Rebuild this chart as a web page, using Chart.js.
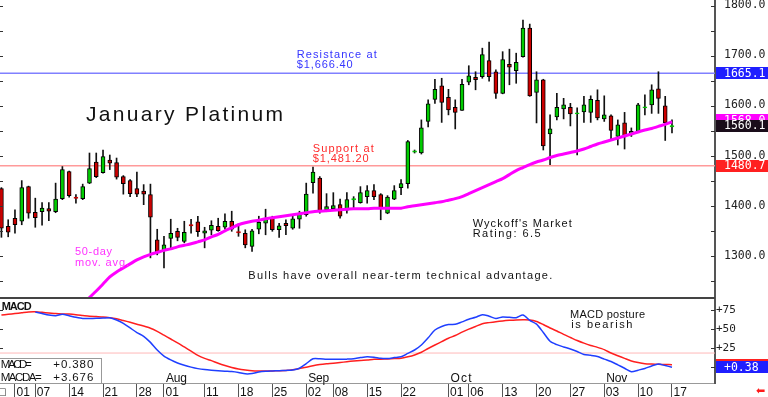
<!DOCTYPE html>
<html>
<head>
<meta charset="utf-8">
<script src="https://cdn.jsdelivr.net/npm/chart.js@4/dist/chart.umd.min.js"></script>
<style>
  html, body { margin: 0; padding: 0; background: #fff; }
  canvas { display: block; }
</style>
</head>
<body>
<canvas id="price" width="768" height="297"></canvas>
<canvas id="macd" width="768" height="100"></canvas>
<script>
// Daily January platinum, Jun 27 .. Nov 17
var OPEN  = [1435,1360,1376,1370,1439,1388,1389,1395,1389,1415,1469,1418,1415,1446,1488,1467,1492,1487,1459,1451,
             1435,1430,1423,1333,1312,1336,1350,1330,1363,1369,1346,1352,1360,1358,1370,1349,1346,1320,1354,1366,
             1378,1353,1366,1356,1374,1383,1447,1456,1393,1395,1403,1392,1413,1407,1419,1431,1423,1386,1414,1437,
             1445,1508,1506,1569,1613,1640,1617,1597,1591,1647,1657,1658,1690,1668,1625,1683,1670,1698,1755,1627,
             1652,1544,1578,1594,1597,1584,1588,1587,1611,1574,1580,1539,1566,1542,1549,1596,1602,1634,1600,1558.5];
var HIGH  = [1437,1373,1393,1451,1440,1416,1407,1407,1446,1479,1470,1423,1444,1506,1506,1512,1502,1496,1461,1453,
             1468,1443,1444,1354,1340,1374,1356,1370,1374,1380,1358,1371,1376,1385,1390,1365,1353,1354,1380,1394,
             1380,1366,1373,1380,1390,1446,1478,1459,1425,1427,1414,1427,1419,1439,1441,1443,1425,1421,1441,1453,
             1531,1512,1572,1612,1653,1655,1633,1612,1653,1680,1668,1715,1727,1672,1708,1713,1705,1771,1763,1668,
             1653,1582,1625,1615,1605,1596,1619,1620,1632,1620,1582,1572,1587,1556,1605,1622,1642,1668,1619,1572];
var LOW   = [1338,1339,1346,1363,1376,1358,1362,1371,1387,1413,1418,1406,1413,1445,1457,1466,1473,1454,1424,1419,
             1419,1403,1297,1303,1277,1317,1331,1327,1346,1340,1317,1343,1350,1354,1350,1340,1317,1310,1345,1343,
             1350,1338,1343,1354,1356,1380,1426,1386,1389,1393,1376,1386,1396,1406,1406,1413,1373,1385,1413,1423,
             1436,1506,1504,1558,1605,1567,1582,1554,1591,1642,1632,1655,1649,1615,1624,1642,1645,1697,1619,1566,
             1512,1483,1572,1574,1560,1502,1567,1567,1572,1569,1532,1522,1514,1539,1549,1582,1585,1585,1531,1546];
var CLOSE = [1356,1348,1363,1437,1386,1377,1396,1390,1414,1473,1421,1416,1439,1475,1459,1499,1486,1458,1445,1425,
             1424,1424,1378,1307,1323,1346,1338,1348,1361,1349,1351,1362,1351,1370,1354,1347,1323,1351,1368,1374,
             1353,1361,1361,1375,1385,1424,1468,1389,1399,1401,1380,1413,1415,1427,1431,1419,1396,1418,1431,1445,
             1529,1510,1556,1604,1633,1607,1592,1587,1643,1660,1652,1702,1658,1625,1692,1677,1687,1755,1620,1652,
             1520,1554,1597,1602,1584,1586,1602,1613,1576,1582,1551,1562,1538,1549,1602,1598,1632,1615,1566,1560.1];

// 50-day moving average (first values lie below the visible range)
var MA50 = [null,null,null,null,null,null,null,null,null,null,null,null,1204,1218,1231,1245,1259,1269,1277,1285,
            1293,1299,1304,1308,1312,1315,1319,1322,1325,1329,1333,1339,1344,1351,1357,1363,1367,1370,1372,1375,
            1377,1379,1381,1383,1385,1387,1389,1390,1391,1392,1393,1394,1395,1395,1395,1396,1396,1396,1396,1396,
            1399,1401,1403,1405,1407,1409,1412,1415,1419,1425,1431,1437,1443,1449,1455,1463,1471,1477,1483,1488,
            1492,1497,1501,1504,1507,1510,1514,1519,1524,1528,1532,1536,1540,1544,1548,1552,1555,1559,1563,1568];

// MACD (blue) and its average MACDA (red)
var MACD = [null,null,null,null,null,73,71,69,68,70,68,66,64.5,64.5,64.7,65,65.5,62.5,58,52,
            46,41,33,23,15,10,6,3,0.5,-1.5,-2.8,-3.6,-4.2,-4.8,-5.3,-6.5,-8.3,-8,-6,-5,
            -4.6,-4.2,-3.8,-3.3,-1,5,11.5,11.5,10.8,10.7,10.8,11,11.5,13,14.2,13.5,12,11.8,13,14.2,
            18.5,23,29.6,39,49.3,54,56.5,56.8,60,63.5,66,69.5,67.5,64.5,66.5,66,65.5,69,62,57,
            46,34.5,30,27,24.3,21,17,16,14.5,11,7.8,3.5,-1,-5.5,-3.5,-1.3,2,4.5,2.5,0.38];
var MACDA = [69,70,71,72,73,73.2,72.5,71.8,71,70.5,70.2,69.5,68.5,67.5,67,66.5,65.5,64,61.8,59.5,
             57,54.5,51.6,47.5,42.5,37.5,32.5,27,21.5,16,12,9,5.5,2.5,0,-2,-3.3,-4.3,-4.6,-4.6,
             -4.5,-4.3,-4,-3,-1.3,0.3,2.3,3.8,4.8,5.5,6.5,7.6,8.5,9.3,9.9,10.8,11,11.3,11.7,12.1,
             14,16.5,20,25,29.6,34,38.5,42,46.5,50.5,54,57.5,59,60.3,61.3,62,62.5,62.7,62.5,60.5,
             56.5,52,48,43.5,39.5,35.5,32,29,26.5,23.5,19,15.5,12,8.6,6.5,5,4.5,4.2,3.9,3.676];

var RESISTANCE = 1665.1;
var SUPPORT = 1480.7;
var MA_LAST = 1568;
var LAST_CLOSE = 1560.1;
var MACD_REF = 19;

var PRICE_MIN = 1219, PRICE_MAX = 1811;
var PRICE_TICKS = [1300, 1400, 1500, 1600, 1700, 1800];
var MACD_MIN = -20.4, MACD_MAX = 91.4;
var MACD_TICKS = [25, 50, 75];

var DATE_IDX    = [2, 5, 10, 15, 20, 24, 30, 35, 40, 45, 49, 54, 59, 66, 69, 74, 79, 84, 89, 94, 99];
var DATE_LABELS = ['01','07','14','21','28','01','11','18','25','02','08','15','22','01','06','13','20','27','03','10','17'];
var MONTH_IDX    = [24, 45, 66, 89];
var MONTH_LABELS = ['Aug', 'Sep', 'Oct', 'Nov'];

var X_MIN = -0.21, X_MAX = 105.35;
var AXIS_W = 53;
var MONO = 'DejaVu Sans Mono';
var SANS = 'Liberation Sans';

// spread a string so that it spans a given width
function spacedText(ctx, s, x, y, font, color, w) {
  ctx.save();
  ctx.font = font;
  ctx.letterSpacing = '0px';
  if (w) {
    var m = ctx.measureText(s).width;
    ctx.letterSpacing = ((w - m) / Math.max(1, s.length - 1)) + 'px';
  }
  ctx.fillStyle = color;
  ctx.textAlign = 'left';
  ctx.textBaseline = 'alphabetic';
  ctx.fillText(s, x, y);
  ctx.restore();
}

function valueBox(ctx, yPix, bg, label, fg) {
  ctx.fillStyle = bg;
  ctx.fillRect(716, Math.round(yPix - 6), 52, 12);
  if (label) {
    ctx.fillStyle = fg;
    ctx.font = '11.5px ' + MONO;
    ctx.textBaseline = 'middle';
    ctx.textAlign = 'left';
    ctx.fillText(label, 724, yPix + 0.5);
  }
}

function axisLabels(ctx, scale, values, fmt, x, size) {
  ctx.fillStyle = '#222';
  ctx.font = size + 'px ' + MONO;
  ctx.textBaseline = 'middle';
  ctx.textAlign = 'left';
  values.forEach(function(v) { ctx.fillText(fmt(v), x, scale.getPixelForValue(v) - 0.5); });
}

function sideTicks(ctx, scale, area, from, to, step) {
  ctx.fillStyle = '#333';
  for (var v = from; v <= to; v += step) {
    var y = Math.round(scale.getPixelForValue(v));
    if (y < area.top || y > area.bottom) continue;
    ctx.fillRect(area.right - 4, y, 4, 1);
    ctx.fillRect(0, y, 3, 1);
  }
}

var idx = OPEN.map(function(_, i) { return i; });
var bodyColor = idx.map(function(i) { return CLOSE[i] >= OPEN[i] ? '#00cc00' : '#cc0000'; });
var bodyBorder = idx.map(function(i) {
  return Math.abs(CLOSE[i] - OPEN[i]) < 2.6 ? bodyColor[i] : '#000';
});
var bodies = idx.map(function(i) {
  var lo = Math.min(OPEN[i], CLOSE[i]), hi = Math.max(OPEN[i], CLOSE[i]);
  if (hi - lo < 2.6) { var m = (lo + hi) / 2; lo = m - 1.3; hi = m + 1.3; }
  return { x: i, y: [lo, hi] };
});
var wicks = idx.map(function(i) { return { x: i, y: [LOW[i], HIGH[i]] }; });
function series(arr) { return arr.map(function(v, i) { return { x: i, y: v }; }); }
function flat(v) { return [{ x: X_MIN, y: v }, { x: X_MAX, y: v }]; }

var pricePlugin = {
  id: 'priceDecor',
  afterDraw: function(chart) {
    var ctx = chart.ctx, area = chart.chartArea, ys = chart.scales.y;
    ctx.save();
    sideTicks(ctx, ys, area, 1250, 1800, 50);
    axisLabels(ctx, ys, PRICE_TICKS, function(v) { return v.toFixed(1); }, 724, 11.5);

    spacedText(ctx, 'January Platinum', 86, 120.5, '21px ' + SANS, '#111', 197);
    spacedText(ctx, 'Resistance at', 296.7, 57.5, '11px ' + SANS, '#3535ff', 80);
    spacedText(ctx, '$1,666.40', 296.7, 67.5, '11px ' + SANS, '#3535ff', 56);
    spacedText(ctx, 'Support at', 312.7, 151.7, '11px ' + SANS, '#ff2a2a', 61);
    spacedText(ctx, '$1,481.20', 312.7, 161.7, '11px ' + SANS, '#ff2a2a', 56);
    spacedText(ctx, '50-day', 75, 255, '11px ' + SANS, '#ff33ff', 37);
    spacedText(ctx, 'mov. avg.', 75, 265.5, '11px ' + SANS, '#ff33ff', 54);
    spacedText(ctx, "Wyckoff's Market", 472.7, 226.7, '11px ' + SANS, '#111', 99);
    spacedText(ctx, 'Rating: 6.5', 472.7, 237, '11px ' + SANS, '#111', 68);
    spacedText(ctx, 'Bulls have overall near-term technical advantage.', 248.3, 279, '11px ' + SANS, '#111', 304);

    valueBox(ctx, ys.getPixelForValue(RESISTANCE), '#1f1fff', RESISTANCE.toFixed(1), '#fff');
    valueBox(ctx, ys.getPixelForValue(MA_LAST) - 1.5, '#ff00ff', MA_LAST.toFixed(1), '#fff');
    valueBox(ctx, ys.getPixelForValue(LAST_CLOSE), '#1a0d1a', LAST_CLOSE.toFixed(1), '#fff');
    valueBox(ctx, ys.getPixelForValue(SUPPORT), '#ff2020', SUPPORT.toFixed(1), '#fff');
    ctx.restore();
  }
};

new Chart(document.getElementById('price'), {
  type: 'bar',
  data: {
    datasets: [
      { type: 'line', data: series(MA50), borderColor: '#ff00ff', borderWidth: 3, pointRadius: 0,
        tension: 0.3, clip: 0, order: 0 },
      { type: 'bar', data: bodies, backgroundColor: bodyColor, borderColor: bodyBorder, borderWidth: 1,
        borderSkipped: false, barThickness: 4, grouped: false, clip: 0, order: 1 },
      { type: 'bar', data: wicks, backgroundColor: '#111', borderWidth: 0, barThickness: 1,
        grouped: false, clip: 0, order: 2 },
      { type: 'line', data: flat(RESISTANCE), borderColor: '#8080ff', borderWidth: 1.5, pointRadius: 0, clip: 0, order: 3 },
      { type: 'line', data: flat(SUPPORT), borderColor: '#ff9a9a', borderWidth: 1.5, pointRadius: 0, clip: 0, order: 3 }
    ]
  },
  options: {
    responsive: false, animation: false, devicePixelRatio: 1,
    layout: { padding: 0, autoPadding: false },
    plugins: { legend: { display: false }, tooltip: { enabled: false } },
    scales: {
      x: { type: 'linear', min: X_MIN, max: X_MAX, offset: false, display: false },
      y: {
        position: 'right', min: PRICE_MIN, max: PRICE_MAX,
        afterFit: function(s) { s.width = AXIS_W; },
        grid: { display: false, drawTicks: false },
        border: { display: true, color: '#555', width: 2 },
        ticks: { display: false }
      }
    }
  },
  plugins: [pricePlugin]
});

var macdPlugin = {
  id: 'macdDecor',
  afterDraw: function(chart) {
    var ctx = chart.ctx, area = chart.chartArea, ys = chart.scales.y, xs = chart.scales.x;
    ctx.save();
    ctx.fillStyle = '#444';
    ctx.fillRect(0, 0, area.right, 2);
    sideTicks(ctx, ys, area, -25, 75, 25);
    axisLabels(ctx, ys, MACD_TICKS, function(v) { return '+' + v; }, 716, 11);

    spacedText(ctx, 'MACD', 1.7, 13, 'bold 11px ' + SANS, '#111', 30);
    spacedText(ctx, 'MACD posture', 570, 21, '11px ' + SANS, '#111', 75);
    spacedText(ctx, 'is bearish', 571.3, 31, '11px ' + SANS, '#111', 61);

    MONTH_IDX.forEach(function(m, k) {
      spacedText(ctx, MONTH_LABELS[k], xs.getPixelForValue(m) + 2, 85, '12px ' + SANS, '#111', 21);
    });

    // readout box
    ctx.fillStyle = '#fff';
    ctx.fillRect(0, 61.5, 101.5, 25);
    ctx.strokeStyle = '#999';
    ctx.lineWidth = 1;
    ctx.strokeRect(-0.5, 61.5, 102, 25);
    spacedText(ctx, 'MACD=', 0.7, 71, '11.5px ' + SANS, '#111', 31);
    spacedText(ctx, '+' + MACD[MACD.length - 1].toFixed(3), 53.3, 71, '11.5px ' + SANS, '#111', 40);
    spacedText(ctx, 'MACDA=', 0.7, 83.5, '11.5px ' + SANS, '#111', 41);
    spacedText(ctx, '+' + MACDA[MACDA.length - 1].toFixed(3), 53.3, 83.5, '11.5px ' + SANS, '#111', 40);

    valueBox(ctx, ys.getPixelForValue(MACDA[MACDA.length - 1]), '#ff2020', '', '#fff');
    valueBox(ctx, ys.getPixelForValue(MACD[MACD.length - 1]), '#1f1fff',
             '+' + MACD[MACD.length - 1].toFixed(2), '#fff');

    ctx.fillStyle = '#ff1a1a';
    ctx.font = '11px DejaVu Sans';
    ctx.textBaseline = 'alphabetic';
    ctx.fillText('\u2B05', 756, 97);
    ctx.fillStyle = '#333';
    ctx.font = '10px DejaVu Sans';
    ctx.fillText('\u25A1', -3, 98);
    ctx.restore();
  }
};

new Chart(document.getElementById('macd'), {
  type: 'line',
  data: {
    datasets: [
      { data: series(MACD), borderColor: '#1f3fff', borderWidth: 1.5, pointRadius: 0, tension: 0.25, clip: 0, order: 0 },
      { data: series(MACDA), borderColor: '#ff1f1f', borderWidth: 1.5, pointRadius: 0, tension: 0.25, clip: 0, order: 1 },
      { data: flat(MACD_REF), borderColor: '#ffb8b8', borderWidth: 1, pointRadius: 0, clip: 0, order: 2 }
    ]
  },
  options: {
    responsive: false, animation: false, devicePixelRatio: 1,
    layout: { padding: { top: 1, left: 0, right: 0, bottom: 0 }, autoPadding: false },
    plugins: { legend: { display: false }, tooltip: { enabled: false } },
    scales: {
      x: {
        type: 'linear', min: X_MIN, max: X_MAX, offset: false, position: 'bottom',
        afterFit: function(s) { s.height = 14; },
        afterBuildTicks: function(s) { s.ticks = DATE_IDX.map(function(v) { return { value: v }; }); },
        grid: { display: true, drawOnChartArea: false, drawTicks: true, tickLength: 14, color: '#555', lineWidth: 1 },
        border: { display: true, color: '#999', width: 1 },
        ticks: { autoSkip: false, maxRotation: 0, minRotation: 0, align: 'start', labelOffset: 1.5, padding: -12,
                 color: '#111', font: { family: SANS, size: 12 },
                 callback: function(v, i) { return DATE_LABELS[i]; } }
      },
      y: {
        position: 'right', min: MACD_MIN, max: MACD_MAX,
        afterFit: function(s) { s.width = AXIS_W; },
        grid: { display: false, drawTicks: false },
        border: { display: true, color: '#555', width: 2 },
        ticks: { display: false }
      }
    }
  },
  plugins: [macdPlugin]
});
</script>
</body>
</html>
